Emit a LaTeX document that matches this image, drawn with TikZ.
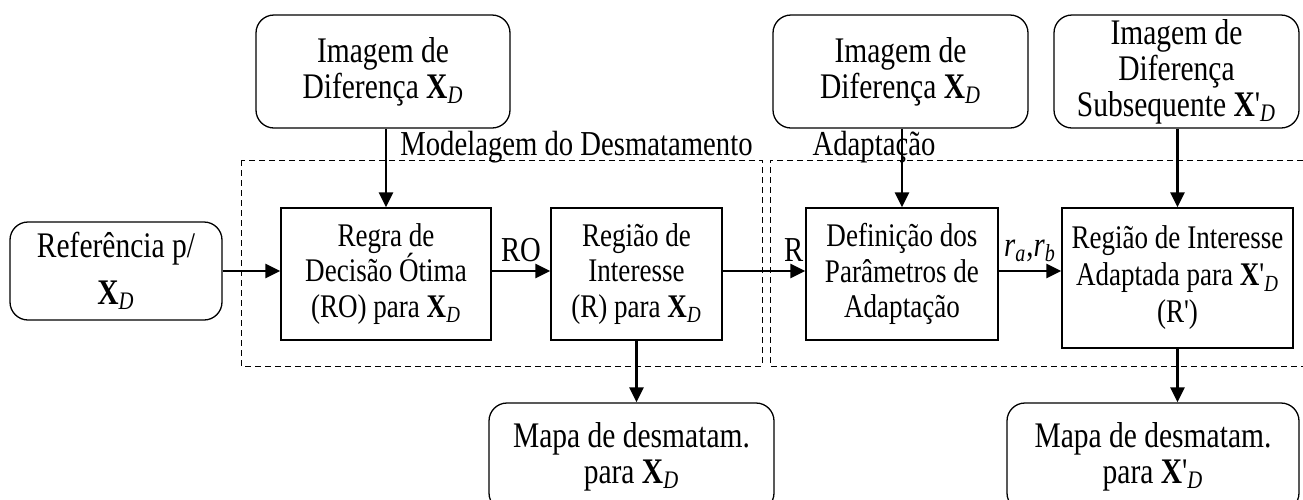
\documentclass[tikz,border=0pt]{standalone}
\usepackage{fontspec}
\setmainfont{Liberation Serif}[Ligatures=TeXOff, FakeStretch=0.82]
\usetikzlibrary{arrows.meta}

\newcommand{\XD}{\textbf{X}\textsubscript{\textit{D}}}
\newcommand{\XDp}{\textbf{X}'\textsubscript{\textit{D}}}

\begin{document}
\begin{tikzpicture}[x=0.5pt,y=-0.5pt,
		rbox/.style={draw, line width=0.65pt, rounded corners=9pt, align=center, inner sep=1pt,
			font=\fontsize{18}{18}\selectfont},
		sbox/.style={draw, line width=0.65pt, align=center, inner sep=1pt,
			font=\fontsize{16.5}{17.8}\selectfont},
		flow/.style={line width=1.2pt, -{Triangle[length=7.5pt,width=7pt]}},
		frame/.style={dashed, line width=0.5pt, dash pattern=on 3pt off 2pt},
		lbl/.style={font=\fontsize{17.5}{18}\selectfont, inner sep=1pt}]
	\useasboundingbox (0,0) rectangle (1303,499);

	% entradas
	\node (img1) [rbox, minimum width=127pt, minimum height=56.5pt] at (383,71.5)
		{Imagem de\\Diferença \XD};
	\node (img2) [rbox, minimum width=127.5pt, minimum height=56.5pt] at (900.5,71.5)
		{Imagem de\\Diferença \XD};
	\node (img3) [rbox, minimum width=122.5pt, minimum height=56.5pt] at (1176.5,71.5)
		{Imagem de\\Diferença\\Subsequente \XDp};
	\node (ref) [rbox, font=\fontsize{18}{23.5}\selectfont, minimum width=106pt, minimum height=49pt]
		at (116,271) {Referência p/\\\XD};

	% blocos
	\node (regra) [sbox, minimum width=105pt, minimum height=66pt] at (386,274)
		{Regra de\\Decisão Ótima\\(RO) para \XD};
	\node (regiao) [sbox, minimum width=85.5pt, minimum height=66pt] at (636.5,274)
		{Região de\\Interesse\\(R) para \XD};
	\node (defin) [sbox, minimum width=96pt, minimum height=66pt] at (902,274)
		{Definição dos\\Parâmetros de\\Adaptação};
	\node (adapt) [sbox, font=\fontsize{16.5}{18.5}\selectfont, minimum width=115.5pt, minimum height=70pt]
		at (1177.5,278) {Região de Interesse\\Adaptada para \XDp\\(R')};

	% saidas (cortadas na borda de baixo)
	\node (mapa1) [rbox, minimum width=142.5pt, minimum height=54pt] at (631.5,457)
		{Mapa de desmatam.\\para \XD};
	\node (mapa2) [rbox, minimum width=146pt, minimum height=54pt] at (1153,457)
		{Mapa de desmatam.\\para \XDp};

	% molduras
	\draw[frame] (241,160) rectangle (762,366);
	\draw[frame] (1303,160) -- (770,160) -- (770,366) -- (1303,366);
	\node (tmod) [lbl, anchor=base east] at (755,155) {Modelagem do Desmatamento};
	\node (tadp) [lbl, anchor=base] at (874,155) {Adaptação};

	% fluxo
	\draw[flow] (regra.north |- img1.south) -- (regra.north);
	\draw[flow] (defin.north |- img2.south) -- (defin.north);
	\draw[flow] (adapt.north |- img3.south) -- (adapt.north);
	\draw[flow] (ref.east) -- (ref.east -| regra.west);
	\draw[flow] (regra.east |- ref.east) -- (regiao.west |- ref.east)
		node[lbl, midway, above=3pt] {RO};
	\draw[flow] (regiao.east |- ref.east) -- (defin.west |- ref.east)
		node[lbl, pos=0.86, above=3pt] {R};
	\draw[flow] (defin.east |- ref.east) -- (adapt.west |- ref.east)
		node[lbl, midway, above=3pt] {\textit{r}\textsubscript{\textit{a}},\textit{r}\textsubscript{\textit{b}}};
	\draw[flow] (regiao.south) -- (regiao.south |- mapa1.north);
	\draw[flow] (adapt.south) -- (adapt.south |- mapa2.north);
\end{tikzpicture}
\end{document}
